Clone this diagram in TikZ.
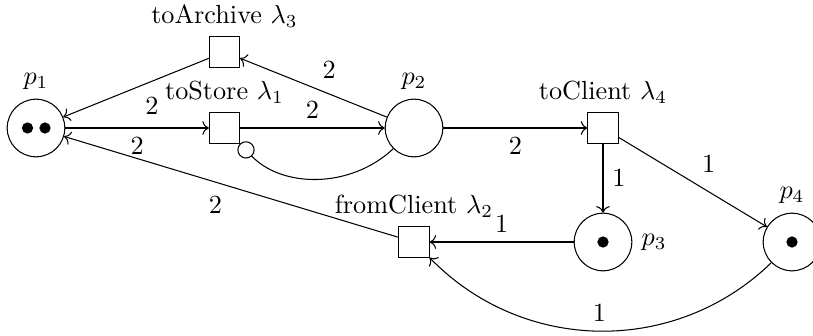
\documentclass[tikz,border=0pt]{standalone}
\usetikzlibrary{arrows.meta}
\begin{document}
\begin{tikzpicture}[x=0.3817pt,y=-0.3817pt,
  placenode/.style={circle,draw,minimum size=22pt,inner sep=0pt},
  transnode/.style={rectangle,draw,minimum size=11.5pt,inner sep=0pt},
  tokendot/.style={circle,fill=black,minimum size=4.3pt,inner sep=0pt},
  arc/.style={->},
  inhib/.style={-{Circle[open,length=6.6pt,width=6.6pt]}},
  every label/.style={inner sep=3.33pt}]
\useasboundingbox (0,0) rectangle (813,336);
\node[placenode,label=above:{$p_1$}] (p1) at (36,128) {};
\node[placenode,label=above:{$p_2$}] (p2) at (414,128) {};
\node[placenode,label=right:{$p_3$}] (p3) at (603,242) {};
\node[placenode,label=above:{$p_4$}] (p4) at (792,242) {};
\node[tokendot] (t1a) at (27.5,128) {};
\node[tokendot] (t1b) at (45,128) {};
\node[tokendot] (t3) at (603,242) {};
\node[tokendot] (t4) at (792,242) {};
\node[transnode,label=above:{toStore $\lambda_1$}] (toStore) at (224.5,128) {};
\node[transnode,label=above:{toArchive $\lambda_3$}] (toArchive) at (224.5,52) {};
\node[transnode,label=above:{toClient $\lambda_4$}] (toClient) at (603,128) {};
\node[transnode,label=above:{fromClient $\lambda_2$}] (fromClient) at (414,242) {};
\draw[arc] (p1) -- node[below] {2} (toStore);
\draw[arc] (toStore) -- node[above] {2} (p2);
\draw[arc] (p2) -- node[above right] {2} (toArchive);
\draw[arc] (toArchive) -- node[below right] {2} (p1);
\draw[inhib] (p2) to[bend left=45] (toStore);
\draw[arc] (p2) -- node[below] {2} (toClient);
\draw[arc] (toClient) -- node[right] {1} (p3);
\draw[arc] (toClient) -- node[above right] {1} (p4);
\draw[arc] (p3) -- node[above] {1} (fromClient);
\draw[arc] (fromClient) -- node[below left] {2} (p1);
\draw[arc] (p4) to[bend left=45] node[above] {1} (fromClient);
\end{tikzpicture}
\end{document}
